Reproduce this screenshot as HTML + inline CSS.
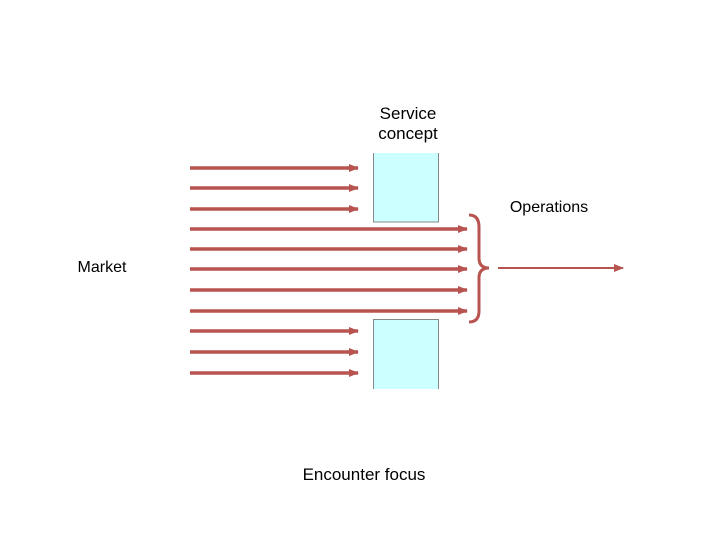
<!DOCTYPE html>
<html><head><style>
body{margin:0;width:720px;height:540px;background:#fff;position:relative;font-family:"Liberation Sans",sans-serif;overflow:hidden}
.t{position:absolute;font-size:17px;color:#000;text-align:center;line-height:20px}
</style></head><body>
<svg width="720" height="540" style="position:absolute;left:0;top:0">
<defs><marker id="a" markerWidth="10" markerHeight="8" refX="9" refY="4" orient="auto" markerUnits="userSpaceOnUse"><path d="M0,0 L10,4 L0,8 z" fill="#b85450"/></marker></defs>
<rect x="373.5" y="152" width="65" height="70" fill="#ccffff" stroke="#888" stroke-width="1"/>
<rect x="373.5" y="319.5" width="65" height="71" fill="#ccffff" stroke="#888" stroke-width="1"/>
<rect x="373" y="150" width="67" height="3" fill="#fff"/>
<rect x="373" y="389" width="67" height="3" fill="#fff"/>
<g stroke="#b85450" stroke-width="3.5" marker-end="url(#a)">
<line x1="190" y1="168" x2="358" y2="168"/>
<line x1="190" y1="188" x2="358" y2="188"/>
<line x1="190" y1="209" x2="358" y2="209"/>
<line x1="190" y1="229" x2="467" y2="229"/>
<line x1="190" y1="249" x2="467" y2="249"/>
<line x1="190" y1="269" x2="467" y2="269"/>
<line x1="190" y1="290" x2="467" y2="290"/>
<line x1="190" y1="311" x2="467" y2="311"/>
<line x1="190" y1="331" x2="358" y2="331"/>
<line x1="190" y1="352" x2="358" y2="352"/>
<line x1="190" y1="373" x2="358" y2="373"/>
</g>
<line x1="498" y1="268" x2="623" y2="268" stroke="#b85450" stroke-width="2" marker-end="url(#a)"/>
<path d="M469,215 Q479,215 479,227 L479,258 Q479,268 489,268 Q479,268 479,278 L479,311 Q479,322 469,322" fill="none" stroke="#b85450" stroke-width="3"/>
</svg>
<div class="t" style="left:358px;top:104px;width:100px">Service<br>concept</div>
<div class="t" style="left:498px;top:198px;width:102px;font-size:16px">Operations</div>
<div class="t" style="left:70px;top:258px;width:64px;font-size:16px">Market</div>
<div class="t" style="left:290px;top:465px;width:148px">Encounter focus</div>
</body></html>
